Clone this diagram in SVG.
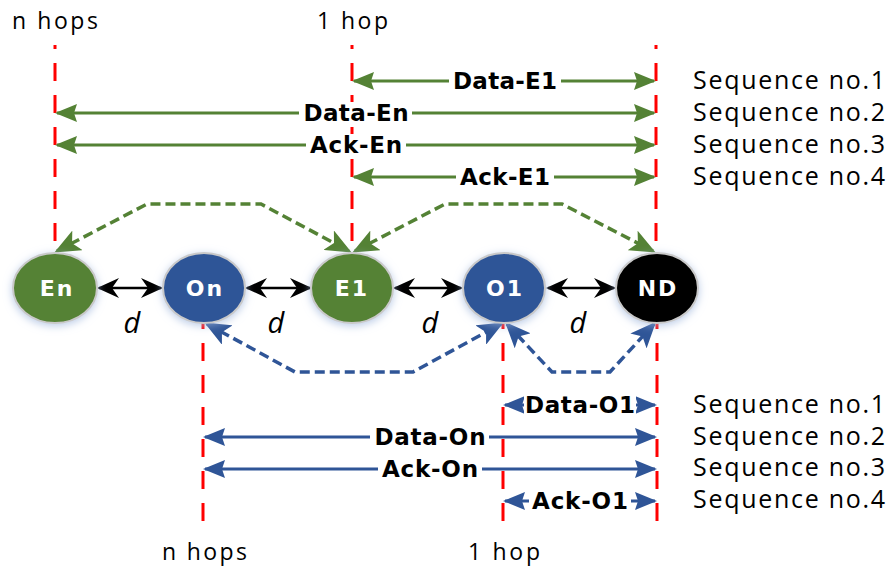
<svg xmlns="http://www.w3.org/2000/svg" width="890" height="567" viewBox="0 0 890 567">
<style>
.txt{font-family:"Open Sans","Liberation Sans",sans-serif;fill:#000;font-size:25px}
.hop{font-family:"Open Sans","Liberation Sans",sans-serif;fill:#000;font-size:23px}
.lbl{font-family:"DejaVu Sans","Liberation Sans",sans-serif;font-weight:bold;font-size:23px;fill:#000;text-anchor:middle}
.nlbl{font-family:"DejaVu Sans","Liberation Sans",sans-serif;font-weight:bold;font-size:22px;fill:#fff;text-anchor:middle;letter-spacing:2px}
.dd{font-family:"Open Sans","Liberation Sans",sans-serif;font-style:italic;font-size:29px;fill:#000;text-anchor:middle}
.red{stroke:#ff0000;stroke-width:3;stroke-dasharray:18 14;fill:none}
.ga{stroke:#548235;stroke-width:3;fill:none;marker-start:url(#mg);marker-end:url(#mg)}
.ba{stroke:#2f5597;stroke-width:3;fill:none;marker-start:url(#mb);marker-end:url(#mb)}
.gd{stroke:#548235;stroke-width:3.5;stroke-dasharray:10 5;fill:none;marker-start:url(#mgd);marker-end:url(#mgd)}
.bd{stroke:#2f5597;stroke-width:3.5;stroke-dasharray:10 5;fill:none;marker-start:url(#mbd);marker-end:url(#mbd)}
.ka{stroke:#000;stroke-width:2.5;fill:none;marker-start:url(#mk);marker-end:url(#mk)}
.node{stroke:#c9c9c9;stroke-width:2;filter:url(#glow)}
</style>
<defs>
<filter id="glow" x="-30%" y="-30%" width="160%" height="160%">
<feGaussianBlur in="SourceAlpha" stdDeviation="4"/>
<feOffset dx="0" dy="2" result="b"/>
<feFlood flood-color="#9cb4dc" flood-opacity="0.7"/>
<feComposite in2="b" operator="in"/>
<feMerge><feMergeNode/><feMergeNode in="SourceGraphic"/></feMerge>
</filter>
<marker id="mg" markerUnits="userSpaceOnUse" viewBox="0 0 22 18" markerWidth="22" markerHeight="18" refX="20" refY="9" orient="auto-start-reverse"><path d="M0,0 L22,9 L0,18 L3,9 z" fill="#548235"/></marker>
<marker id="mb" markerUnits="userSpaceOnUse" viewBox="0 0 22 18" markerWidth="22" markerHeight="18" refX="20" refY="9" orient="auto-start-reverse"><path d="M0,0 L22,9 L0,18 L3,9 z" fill="#2f5597"/></marker>
<marker id="mgd" markerUnits="userSpaceOnUse" viewBox="0 0 26 22" markerWidth="26" markerHeight="22" refX="23" refY="11" orient="auto-start-reverse"><path d="M0,0 L26,11 L0,22 L6,11 z" fill="#548235"/></marker>
<marker id="mbd" markerUnits="userSpaceOnUse" viewBox="0 0 26 22" markerWidth="26" markerHeight="22" refX="23" refY="11" orient="auto-start-reverse"><path d="M0,0 L26,11 L0,22 L6,11 z" fill="#2f5597"/></marker>
<marker id="mk" markerUnits="userSpaceOnUse" viewBox="0 0 22 20" markerWidth="22" markerHeight="20" refX="20" refY="10" orient="auto-start-reverse"><path d="M0,0 L22,10 L0,20 L7,10 z" fill="#000"/></marker>
</defs>

<g id="hop-labels">
<text class="hop" x="12" y="29" textLength="86">n hops</text>
<text class="hop" x="317" y="29" textLength="71">1 hop</text>
<text class="hop" x="162" y="560" textLength="85">n hops</text>
<text class="hop" x="468" y="560" textLength="72">1 hop</text>
</g>

<g id="red-lines">
<line class="red" x1="55" y1="45" x2="55" y2="252" stroke-dashoffset="14"/>
<line class="red" x1="352" y1="45" x2="352" y2="252" stroke-dashoffset="14"/>
<line class="red" x1="656" y1="45" x2="656" y2="252" stroke-dashoffset="14"/>
<line class="red" x1="203" y1="323" x2="203" y2="528" stroke-dashoffset="12"/>
<line class="red" x1="503" y1="323" x2="503" y2="528" stroke-dashoffset="12"/>
<line class="red" x1="657" y1="323" x2="657" y2="521" stroke-dashoffset="12"/>
</g>

<g id="connectors">
<line class="ga" x1="354" y1="81" x2="654" y2="81"/>
<line class="ga" x1="57" y1="113" x2="654" y2="113"/>
<line class="ga" x1="57" y1="145" x2="654" y2="145"/>
<line class="ga" x1="354" y1="177" x2="654" y2="177"/>
<line class="ba" x1="505" y1="405" x2="655" y2="405"/>
<line class="ba" x1="205" y1="437" x2="655" y2="437"/>
<line class="ba" x1="205" y1="469" x2="655" y2="469"/>
<line class="ba" x1="505" y1="501" x2="655" y2="501"/>
<path class="gd" d="M57,251 L147,204 L261,204 L349,251"/>
<path class="gd" d="M355,251 L445,204 L562,204 L653,251"/>
<path class="bd" d="M207,324 L295,372 L413,372 L501,324"/>
<path class="bd" d="M507,324 L552,372 L610,372 L654,324"/>
<line class="ka" x1="99" y1="288" x2="161" y2="288"/>
<line class="ka" x1="247" y1="288" x2="310" y2="288"/>
<line class="ka" x1="395" y1="288" x2="461" y2="288"/>
<line class="ka" x1="548" y1="288" x2="614" y2="288"/>
</g>

<g id="arrow-labels">
<rect x="449" y="70" width="112" height="22" fill="#fff"/>
<text class="lbl" x="505" y="89" textLength="104">Data-E1</text>
<rect x="299" y="102" width="113" height="22" fill="#fff"/>
<text class="lbl" x="356" y="121" textLength="105">Data-En</text>
<rect x="306" y="134" width="100" height="22" fill="#fff"/>
<text class="lbl" x="356" y="153" textLength="92">Ack-En</text>
<rect x="456" y="166" width="98" height="22" fill="#fff"/>
<text class="lbl" x="505" y="185" textLength="90">Ack-E1</text>
<rect x="524" y="394" width="112" height="22" fill="#fff"/>
<text class="lbl" x="580" y="413" textLength="110">Data-O1</text>
<rect x="370" y="426" width="119" height="22" fill="#fff"/>
<text class="lbl" x="430" y="445" textLength="111">Data-On</text>
<rect x="378" y="458" width="104" height="22" fill="#fff"/>
<text class="lbl" x="430" y="477" textLength="96">Ack-On</text>
<rect x="529" y="490" width="102" height="22" fill="#fff"/>
<text class="lbl" x="580" y="509" textLength="96">Ack-O1</text>
</g>

<g id="sequence-labels">
<text class="txt" x="693" y="89" textLength="192">Sequence no.1</text>
<text class="txt" x="693" y="121" textLength="192">Sequence no.2</text>
<text class="txt" x="693" y="153" textLength="192">Sequence no.3</text>
<text class="txt" x="693" y="185" textLength="192">Sequence no.4</text>
<text class="txt" x="693" y="413" textLength="192">Sequence no.1</text>
<text class="txt" x="693" y="445" textLength="192">Sequence no.2</text>
<text class="txt" x="693" y="476" textLength="192">Sequence no.3</text>
<text class="txt" x="693" y="508" textLength="192">Sequence no.4</text>
</g>

<g id="d-labels">
<text class="dd" x="132" y="333">d</text>
<text class="dd" x="276" y="333">d</text>
<text class="dd" x="430" y="333">d</text>
<text class="dd" x="578" y="333">d</text>
</g>

<g id="node-En"><ellipse class="node" cx="55" cy="288" rx="42" ry="35" fill="#548235"/><text class="nlbl" x="57" y="296">En</text></g>
<g id="node-On"><ellipse class="node" cx="204" cy="288" rx="41" ry="35" fill="#2f5597"/><text class="nlbl" x="205" y="296">On</text></g>
<g id="node-E1"><ellipse class="node" cx="352" cy="288" rx="41" ry="35" fill="#548235"/><text class="nlbl" x="352" y="296">E1</text></g>
<g id="node-O1"><ellipse class="node" cx="504" cy="288" rx="41" ry="35" fill="#2f5597"/><text class="nlbl" x="505" y="296">O1</text></g>
<g id="node-ND"><ellipse class="node" cx="657" cy="288" rx="41" ry="35" fill="#000"/><text class="nlbl" x="658" y="296">ND</text></g>
</svg>
